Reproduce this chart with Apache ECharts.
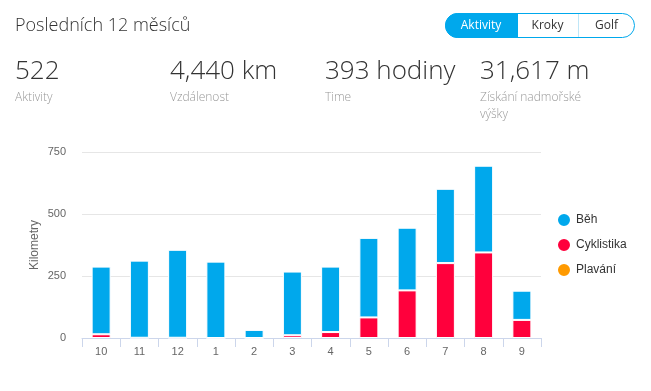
<!DOCTYPE html>
<html><head><meta charset="utf-8">
<script src="https://cdn.jsdelivr.net/npm/echarts@6/dist/echarts.min.js"></script>
<style>html,body{margin:0;padding:0;background:#fff}#c{width:651px;height:391px}</style>
</head><body><div id="c"></div>
<script>
const categories = ['10','11','12','1','2','3','4','5','6','7','8','9'];
const behValues = [273, 311, 355, 308, 33, 257, 264, 321, 253, 300, 350, 118];
const cyklistikaValues = [15, 1, 1, 0, 0, 11, 24, 83, 192, 302, 345, 73];
const plavaniValues = [0, 0, 0, 0, 0, 0, 0, 0, 0, 0, 0, 0];
const yTicks = [0, 250, 500, 750];
const statValues = ['522', '4,440 km', '393 hodiny', '31,617 m'];
const statLabels = ['Aktivity', 'Vzdálenost', 'Time', 'Získání nadmořské\nvýšky'];
const buttons = ['Aktivity', 'Kroky', 'Golf'];

const HF = '"Open Sans", sans-serif';
const CF = '"Liberation Sans", Arial, sans-serif';
const colBlue = '#00a8ec', colRed = '#ff003c', colOrange = '#ff9a00';

const chart = echarts.init(document.getElementById('c'));
const statX = [15, 170, 325, 480];
const graphics = [
  {type:'text', left:15, top:17, style:{text:'Posledních 12 měsíců', font:'300 18px '+HF, fill:'#333'}}
];
statValues.forEach((v,i)=>{
  graphics.push({type:'text', left:statX[i], top:59, style:{text:v, font:'300 26px '+HF, fill:'#333'}});
  graphics.push({type:'text', left:statX[i], top:89, style:{text:statLabels[i], font:'300 12px '+HF, fill:'#999', lineHeight:17}});
});
// button group
const bx = [445, 517, 578, 635];
graphics.push({type:'rect', shape:{x:445.5, y:13.5, width:189, height:24, r:12}, style:{fill:'#fff', stroke:colBlue, lineWidth:1}});
graphics.push({type:'rect', shape:{x:445.5, y:13.5, width:72, height:24, r:[12,0,0,12]}, style:{fill:colBlue, stroke:colBlue}});
graphics.push({type:'line', shape:{x1:578.5, y1:14, x2:578.5, y2:37}, style:{stroke:'#bfe6f7', lineWidth:1}});
buttons.forEach((b,i)=>{
  graphics.push({type:'text', x:(bx[i]+bx[i+1])/2, y:26, style:{text:b, font:'12px '+HF, fill:i===0?'#fff':'#333', align:'center', verticalAlign:'middle'}});
});

const barStyle = {borderColor:'#fff', borderWidth:1};
chart.setOption({
  animation:false,
  graphic: graphics,
  grid:{left:82, right:110, top:152, bottom:53},
  legend:{
    orient:'vertical', left:551, top:207, itemWidth:14, itemHeight:14, itemGap:9, icon:'circle',
    data:['Běh','Cyklistika','Plavání'],
    textStyle:{fontFamily:CF, fontSize:12, color:'#333'}
  },
  xAxis:{
    type:'category', data:categories,
    axisLine:{lineStyle:{color:'#ccd6eb'}},
    axisTick:{show:true, length:9, lineStyle:{color:'#ccd6eb'}},
    axisLabel:{color:'#666', fontSize:11, fontFamily:CF, margin:8}
  },
  yAxis:{
    type:'value', min:0, max:750, interval:250,
    name:'Kilometry', nameLocation:'middle', nameGap:41, nameRotate:90, nameMoveOverlap:false,
    nameTextStyle:{color:'#666', fontSize:12, fontFamily:CF},
    axisLabel:{color:'#666', fontSize:11, fontFamily:CF, margin:16,
      formatter:(v)=> yTicks.includes(v) ? String(v) : ''},
    splitLine:{lineStyle:{color:'#e6e6e6'}},
    axisLine:{show:false}, axisTick:{show:false}
  },
  series:[
    {name:'Cyklistika', type:'bar', stack:'a', data:cyklistikaValues, barWidth:19, itemStyle:Object.assign({color:colRed}, barStyle)},
    {name:'Běh', type:'bar', stack:'a', data:behValues, barWidth:19, itemStyle:Object.assign({color:colBlue}, barStyle)},
    {name:'Plavání', type:'bar', stack:'a', data:plavaniValues, barWidth:19, itemStyle:Object.assign({color:colOrange}, barStyle)}
  ]
});
</script></body></html>
